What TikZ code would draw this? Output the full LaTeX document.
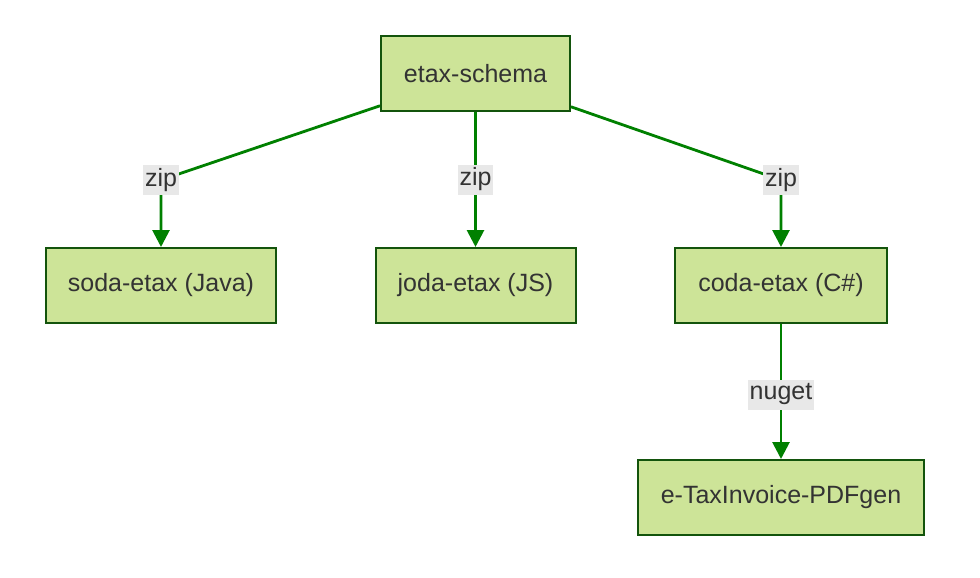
\documentclass[tikz,border=0pt]{standalone}
\usepackage{fontspec}
\setmainfont{Liberation Sans}
\usetikzlibrary{arrows.meta}
\definecolor{boxfill}{HTML}{CDE498}
\definecolor{boxline}{HTML}{13540C}
\definecolor{edgeline}{HTML}{008000}
\definecolor{labelbg}{HTML}{E8E8E8}
\definecolor{txt}{HTML}{333333}
\begin{document}
\begin{tikzpicture}[x=0.5pt,y=-0.5pt,box/.style={draw=boxline,fill=boxfill,line width=1pt,minimum height=37.5pt,text=txt,font=\fontsize{12.5}{15}\selectfont},edge/.style={draw=edgeline,line width=1.4pt,-{Triangle[length=8.5pt,width=8.5pt]}},lbl/.style={fill=labelbg,inner sep=1pt,minimum height=15pt,text=txt,font=\fontsize{12.5}{15}\selectfont}]
\useasboundingbox (0,0) rectangle (980,578);
\node[box,minimum width=94.5pt] (schema) at (475.5,73.5) {etax-schema};
\node[box,minimum width=115pt] (soda) at (161,285.5) {soda-etax (Java)};
\node[box,minimum width=100pt] (joda) at (475.5,285.5) {joda-etax (JS)};
\node[box,minimum width=106pt] (coda) at (781,285.5) {coda-etax (C\#)};
\node[box,minimum width=143pt] (pdfgen) at (781,497.5) {e-TaxInvoice-PDFgen};
\coordinate (bendsoda) at (161,180);
\coordinate (bendcoda) at (781,180);
\draw[edge] (schema) -- (bendsoda) node[lbl] (zipsoda) {zip} -- (soda);
\draw[edge] (schema) -- node[lbl] (zipjoda) {zip} (joda);
\draw[edge] (schema) -- (bendcoda) node[lbl] (zipcoda) {zip} -- (coda);
\draw[edge] (coda) -- node[lbl,yshift=-1.5pt] (nuget) {nuget} (pdfgen);
\end{tikzpicture}
\end{document}
